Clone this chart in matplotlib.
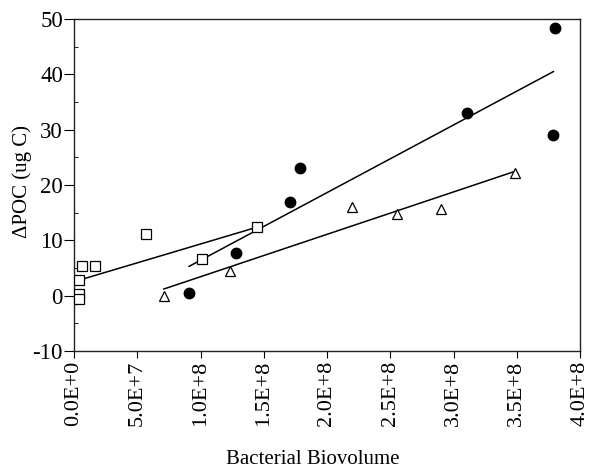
import numpy as np
import matplotlib.pyplot as plt
from matplotlib.ticker import MultipleLocator

plt.rcParams['font.family'] = ['Liberation Serif', 'DejaVu Serif']
plt.rcParams['axes.unicode_minus'] = False

# open squares
sq_x = [4e6, 4e6, 4e6, 6.3e6, 1.66e7, 5.7e7, 1.01e8, 1.45e8]
sq_y = [2.8, 0.3, -0.6, 5.4, 5.4, 11.1, 6.6, 12.4]
# filled circles
ci_x = [9.1e7, 1.28e8, 1.71e8, 1.79e8, 3.11e8, 3.80e8, 3.79e8]
ci_y = [0.4, 7.7, 16.9, 23.0, 33.0, 48.4, 29.0]
# open triangles
tr_x = [7.1e7, 1.23e8, 2.20e8, 2.55e8, 2.90e8, 3.49e8]
tr_y = [-0.1, 4.4, 16.0, 14.7, 15.6, 22.2]

# fitted lines (end points)
sq_fit_x = [4e6, 1.45e8]
sq_fit_y = [2.8, 12.4]
ci_fit_x = [9.1e7, 3.79e8]
ci_fit_y = [5.3, 40.5]
tr_fit_x = [7.1e7, 3.49e8]
tr_fit_y = [1.2, 22.5]

xticks = np.arange(0, 4.01e8, 5e7)
xtick_labels = ["0.0E+0", "5.0E+7", "1.0E+8", "1.5E+8", "2.0E+8",
                "2.5E+8", "3.0E+8", "3.5E+8", "4.0E+8"]
yticks = [-10, 0, 10, 20, 30, 40, 50]

fig = plt.figure(figsize=(5.98, 4.70), dpi=100)
ax = fig.add_axes([74 / 598, 1 - 351 / 470, 506 / 598, 332 / 470])

# regression lines
for fx, fy in [(sq_fit_x, sq_fit_y), (ci_fit_x, ci_fit_y), (tr_fit_x, tr_fit_y)]:
    ax.plot(fx, fy, color='black', lw=1.1, zorder=2)

ax.plot(sq_x, sq_y, ls='none', marker='s', ms=7.5, mfc='white', mec='black',
        mew=0.9, zorder=3)
ax.plot(ci_x, ci_y, ls='none', marker='o', ms=7.5, mfc='black', mec='black',
        zorder=3)
ax.plot(tr_x, tr_y, ls='none', marker='^', ms=7.5, mfc='white', mec='black',
        mew=0.9, zorder=3)

ax.set_xlim(0, 4e8)
ax.set_ylim(-10, 50)
ax.set_xticks(xticks)
ax.set_xticklabels(xtick_labels, rotation=90)
ax.set_yticks(yticks)
ax.yaxis.set_minor_locator(MultipleLocator(5))

ax.tick_params(axis='x', direction='out', length=5, width=0.8, labelsize=16, pad=2)
ax.tick_params(axis='y', which='major', direction='out', length=7, width=0.8,
               labelsize=16.5, pad=1)
ax.tick_params(axis='y', which='minor', direction='in', length=3, width=0.6)

for sp in ax.spines.values():
    sp.set_linewidth(1.0)
    sp.set_color('#222222')

ax.set_xlabel("Bacterial Biovolume", fontsize=15)
ax.set_ylabel("ΔPOC (ug C)", fontsize=15)
ax.xaxis.set_label_coords(0.472, -0.298)
ax.yaxis.set_label_coords(-0.083, 0.512)

fig.savefig("out.png", dpi=100)
